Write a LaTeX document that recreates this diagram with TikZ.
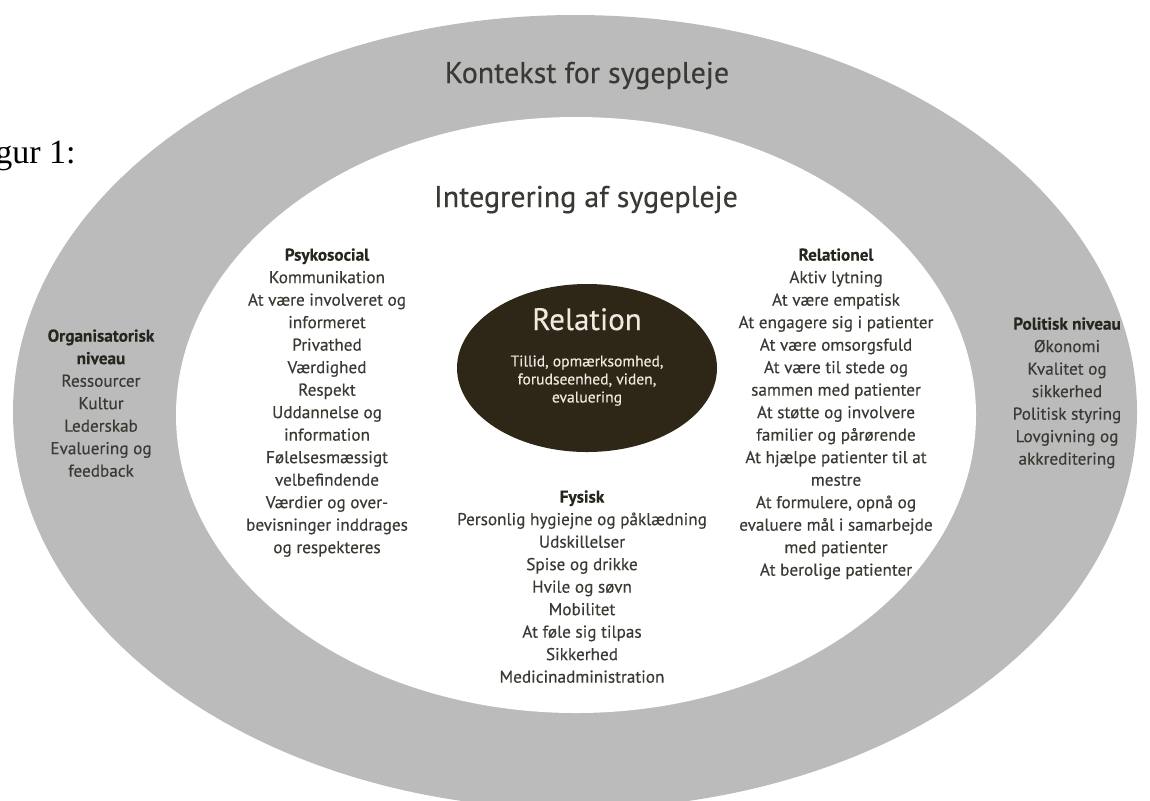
\documentclass[tikz,border=0pt]{standalone}
\usepackage{fontspec}
\setmainfont{PT Sans}[FakeBold=0.35]
\newfontfamily\timesf{Liberation Serif}
\usetikzlibrary{shapes.geometric}
\definecolor{ringgrey}{HTML}{BBBBBB}
\definecolor{darkbrown}{HTML}{2E2718}
\definecolor{txt}{HTML}{3A3A34}
\definecolor{headtxt}{HTML}{26261F}
\definecolor{lighttxt}{HTML}{EEEAE0}
\begin{document}
\begin{tikzpicture}[x=0.5pt,y=-0.5pt,
  ring/.style={ellipse, inner sep=0pt, draw=none},
  list/.style={align=center, anchor=north, inner sep=0pt, text=txt,
    font=\fontsize{8.6}{11.25}\selectfont},
  title/.style={anchor=base, inner sep=0pt, text=txt, font=\fontsize{15}{18}\selectfont}
  ]
\useasboundingbox (0,0) rectangle (1150,800);
\fill[white] (0,0) rectangle (1150,800);
\node[ring, fill=ringgrey, minimum width=562pt, minimum height=397pt] (outer) at (575,412) {};
\node[ring, fill=white, minimum width=400pt, minimum height=298pt] (inner) at (576,415) {};
\node[ring, fill=darkbrown, minimum width=130pt, minimum height=84pt] (core) at (587,368) {};

\node[anchor=base east, inner sep=0pt, font=\timesf\fontsize{17}{20}\selectfont] (fig) at (76,163) {Figur 1:};

\node[title] (kontekst) at (587,83) {Kontekst for sygepleje};
\node[title] (integ) at (586,207) {Integrering af sygepleje};

\node[anchor=base, inner sep=0pt, text=lighttxt, font=\fontsize{15.5}{18}\selectfont] (rel) at (587,330) {Relation};
\node[align=center, anchor=north, inner sep=0pt, text=lighttxt, font=\fontsize{7.8}{9}\selectfont] (relsub) at (587,355)
  {Tillid, opmærksomhed,\\forudseenhed, viden,\\evaluering};

\node[list] (org) at (101,329) {{\bfseries\color{headtxt}Organisatorisk}\\{\bfseries\color{headtxt}niveau}\\Ressourcer\\Kultur\\Lederskab\\Evaluering og\\feedback};

\node[list] (psyk) at (327,248) {{\bfseries\color{headtxt}Psykosocial}\\Kommunikation\\At være involveret og\\informeret\\Privathed\\Værdighed\\Respekt\\Uddannelse og\\information\\Følelsesmæssigt\\velbefindende\\Værdier og over-\\bevisninger inddrages\\og respekteres};

\node[list] (relat) at (836,248) {{\bfseries\color{headtxt}Relationel}\\Aktiv lytning\\At være empatisk\\At engagere sig i patienter\\At være omsorgsfuld\\At være til stede og\\sammen med patienter\\At støtte og involvere\\familier og pårørende\\At hjælpe patienter til at\\mestre\\At formulere, opnå og\\evaluere mål i samarbejde\\med patienter\\At berolige patienter};

\node[list] (pol) at (1067,317) {{\bfseries\color{headtxt}Politisk niveau}\\Økonomi\\Kvalitet og\\sikkerhed\\Politisk styring\\Lovgivning og\\akkreditering};

\node[list] (fys) at (582,490) {{\bfseries\color{headtxt}Fysisk}\\Personlig hygiejne og påklædning\\Udskillelser\\Spise og drikke\\Hvile og søvn\\Mobilitet\\At føle sig tilpas\\Sikkerhed\\Medicinadministration};
\end{tikzpicture}
\end{document}
